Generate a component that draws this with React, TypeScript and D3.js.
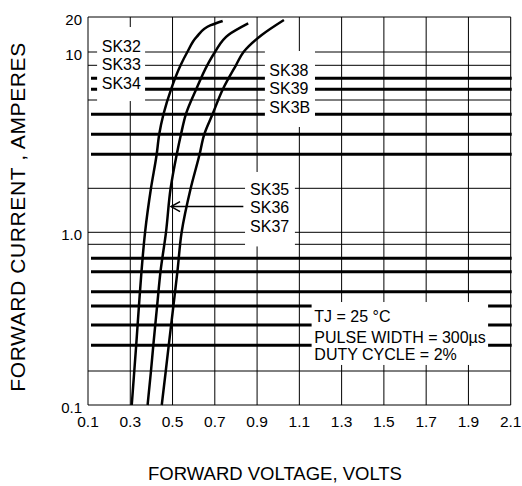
import React from "react";
import * as d3 from "d3";

// Forward voltage grid (volts)
const voltageTicks = [0.1, 0.3, 0.5, 0.7, 0.9, 1.1, 1.3, 1.5, 1.7, 1.9, 2.1];

// Forward current grid lines (amperes), log-style axis
const currentGrid = [
  0.1, 0.2, 0.3, 0.4, 0.5, 0.6, 0.7, 0.8, 0.9, 1, 2, 3, 4, 5, 6, 7, 8, 9, 10, 20,
];
const heavyCurrents = [0.3, 0.4, 0.5, 0.6, 0.7, 0.8, 3, 4, 5, 7, 8];
const currentTickValues = [20, 10, 1, 0.1];
const currentTickLabels = ["20", "10", "1.0", "0.1"];

// [volts, amperes]
const sk32Curve: [number, number][] = [
  [0.307, 0.1], [0.319, 0.2], [0.328, 0.3], [0.341, 0.5], [0.353, 0.7],
  [0.37, 1], [0.398, 2], [0.425, 3], [0.437, 4], [0.457, 5], [0.493, 7],
  [0.538, 9], [0.57, 10], [0.614, 13.5], [0.681, 17], [0.737, 18.5],
];
const sk35Curve: [number, number][] = [
  [0.382, 0.1], [0.398, 0.2], [0.409, 0.3], [0.427, 0.5], [0.443, 0.7],
  [0.469, 1], [0.491, 2], [0.52, 3], [0.54, 4], [0.563, 5], [0.612, 7],
  [0.664, 9], [0.701, 10], [0.764, 14], [0.858, 17.6],
];
const sk38Curve: [number, number][] = [
  [0.449, 0.1], [0.468, 0.2], [0.482, 0.3], [0.504, 0.5], [0.523, 0.7],
  [0.543, 1], [0.586, 2], [0.628, 3], [0.65, 4], [0.689, 5], [0.738, 7],
  [0.8, 9], [0.836, 10], [0.922, 14], [1.027, 18.85],
];

const groupA = ["SK32", "SK33", "SK34"];
const groupB = ["SK38", "SK39", "SK3B"];
const groupC = ["SK35", "SK36", "SK37"];
const conditions = ["TJ = 25 °C", "PULSE WIDTH = 300µs", "DUTY CYCLE = 2%"];

const FONT = "'Liberation Sans', Arial, Helvetica, sans-serif";

export default function App() {
  const width = 522;
  const height = 486;

  const x = d3.scaleLinear().domain([0.1, 2.1]).range([88, 510.7]);
  // the printed axis is not a true log scale, so it is calibrated per grid line
  const y = d3
    .scaleLog()
    .domain(currentGrid)
    .range([
      405, 371, 345.3, 325, 306, 291.7, 271.7, 258.3, 244.3, 232.3, 188.3,
      154.3, 134.3, 114.3, 100, 89.3, 78.3, 65.3, 52, 17,
    ]);

  const [x0, x1] = x.range();
  const yTop = y(20);
  const yBottom = y(0.1);

  const line = d3
    .line<[number, number]>()
    .x((d) => x(d[0]))
    .y((d) => y(d[1]))
    .curve(d3.curveMonotoneY);

  // white boxes behind the labels: [v0, v1, i0, i1]
  const knockouts: [number, number, number, number][] = [
    [0.143, 0.37, 5.92, 16.4],
    [0.937, 1.174, 4.34, 10.2],
    [0.843, 1.079, 0.884, 2.43],
    [1.158, 1.993, 0.22, 0.526],
  ];

  const labelGroups = [
    { lines: groupA, v: 0.165, i: 10, dy: [0, 18.3, 36.6] },
    { lines: groupB, v: 0.958, i: 8.15, dy: [0, 17.3, 36.7] },
    { lines: groupC, v: 0.867, i: 1.8, dy: [0, 18.3, 36.7] },
    { lines: conditions, v: 1.171, i: 0.416, dy: [0, 21.5, 38.5] },
  ];

  const thinCurrents = currentGrid.filter((c) => !heavyCurrents.includes(c));

  const arrowY = y(1.5);
  const arrowTip = x(0.493);
  const arrowTail = x(0.835);

  return (
    <svg
      width={width}
      height={height}
      style={{ position: "absolute", left: 0, top: 0, background: "#fff" }}
      fontFamily={FONT}
    >
      <rect width={width} height={height} fill="#fff" />

      {/* thin vertical grid */}
      {voltageTicks.map((v) => (
        <line
          key={"v" + v}
          x1={x(v)}
          x2={x(v)}
          y1={yTop}
          y2={yBottom}
          stroke="#000"
          strokeWidth={1}
        />
      ))}

      {/* thin horizontal grid */}
      {thinCurrents.map((c) => (
        <line
          key={"h" + c}
          x1={x0}
          x2={x1}
          y1={y(c)}
          y2={y(c)}
          stroke="#000"
          strokeWidth={1}
        />
      ))}

      {/* heavy horizontal grid */}
      {heavyCurrents.map((c) => (
        <line
          key={"H" + c}
          x1={x0 + 3}
          x2={x1 + 1}
          y1={y(c)}
          y2={y(c)}
          stroke="#000"
          strokeWidth={3}
        />
      ))}

      {/* label knockouts */}
      {knockouts.map(([v0, v1, i0, i1], k) => (
        <rect
          key={"k" + k}
          x={x(v0)}
          y={y(i1)}
          width={x(v1) - x(v0)}
          height={y(i0) - y(i1)}
          fill="#fff"
        />
      ))}

      {/* labels */}
      {labelGroups.map((g, gi) => (
        <text key={"g" + gi} x={x(g.v)} y={y(g.i)} fontSize={16} fill="#000">
          {g.lines.map((t, li) => (
            <tspan key={li} x={x(g.v)} y={y(g.i) + g.dy[li]}>
              {t}
            </tspan>
          ))}
        </text>
      ))}

      {/* curves */}
      {[sk32Curve, sk35Curve, sk38Curve].map((c, ci) => (
        <path
          key={"c" + ci}
          d={line(c) || ""}
          fill="none"
          stroke="#000"
          strokeWidth={2.5}
          strokeLinejoin="round"
        />
      ))}

      {/* arrow */}
      <line
        x1={arrowTail}
        x2={arrowTip}
        y1={arrowY}
        y2={arrowY}
        stroke="#000"
        strokeWidth={1.5}
      />
      <path
        d={`M${arrowTip + 9},${arrowY - 5}L${arrowTip},${arrowY}L${arrowTip + 9},${arrowY + 5}`}
        fill="none"
        stroke="#000"
        strokeWidth={1.5}
      />

      {/* x tick labels */}
      {voltageTicks.map((v) => (
        <text
          key={"xt" + v}
          x={x(v)}
          y={yBottom + 21.5}
          fontSize={15.5}
          textAnchor="middle"
        >
          {v.toFixed(1)}
        </text>
      ))}

      {/* y tick labels */}
      {currentTickValues.map((c, k) => (
        <text
          key={"yt" + c}
          x={x0 - 6}
          y={y(c) + 8}
          fontSize={15}
          textAnchor="end"
        >
          {currentTickLabels[k]}
        </text>
      ))}

      {/* axis titles */}
      <text x={275} y={480} fontSize={18.5} textAnchor="middle">
        FORWARD VOLTAGE, VOLTS
      </text>
      <text
        transform="translate(25,217) rotate(-90)"
        fontSize={21}
        letterSpacing={0.6}
        textAnchor="middle"
      >
        FORWARD CURRENT , AMPERES
      </text>
    </svg>
  );
}
